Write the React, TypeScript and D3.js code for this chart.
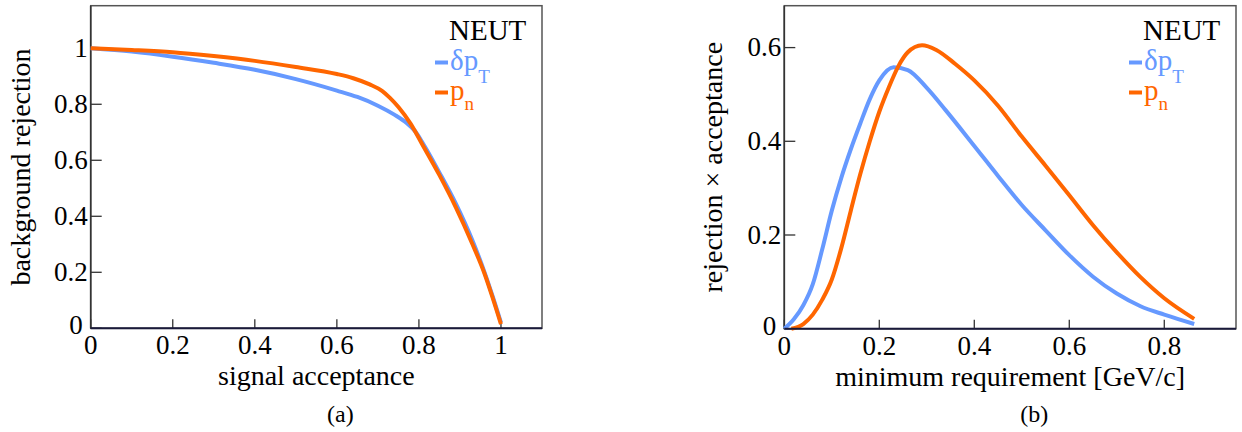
import React from "react";
import * as d3 from "d3";

// ---------- Data: panel (a) ROC curves ----------
const rocAccDpt = [0, 0.1, 0.2, 0.3, 0.4, 0.5, 0.6, 0.65, 0.7, 0.74, 0.77, 0.79, 0.81, 0.85, 0.89, 0.93, 0.96, 0.98, 1.0];
const rocRejDpt = [1.0, 0.988, 0.97, 0.948, 0.923, 0.89, 0.849, 0.826, 0.795, 0.763, 0.733, 0.705, 0.66, 0.556, 0.445, 0.315, 0.2, 0.113, 0.02];
const rocAccPn = [0, 0.1, 0.2, 0.3, 0.4, 0.5, 0.6, 0.64, 0.68, 0.71, 0.73, 0.75, 0.78, 0.81, 0.85, 0.89, 0.93, 0.96, 0.98, 1.0];
const rocRejPn = [1.0, 0.994, 0.986, 0.972, 0.955, 0.933, 0.908, 0.893, 0.871, 0.848, 0.822, 0.79, 0.73, 0.652, 0.547, 0.432, 0.302, 0.195, 0.108, 0.015];

// ---------- Data: panel (b) rejection x acceptance ----------
const minReqDpt = [0, 0.02, 0.04, 0.06, 0.08, 0.1, 0.12, 0.14, 0.16, 0.18, 0.2, 0.23, 0.26, 0.3, 0.34, 0.4, 0.45, 0.5, 0.55, 0.6, 0.65, 0.7, 0.75, 0.8, 0.863];
const prodDpt = [0, 0.02, 0.05, 0.095, 0.17, 0.252, 0.322, 0.383, 0.438, 0.49, 0.53, 0.558, 0.552, 0.514, 0.466, 0.39, 0.326, 0.264, 0.21, 0.157, 0.111, 0.075, 0.048, 0.03, 0.01];
const minReqPn = [0.015, 0.04, 0.06, 0.08, 0.1, 0.12, 0.14, 0.16, 0.18, 0.2, 0.22, 0.24, 0.26, 0.29, 0.32, 0.36, 0.4, 0.45, 0.5, 0.55, 0.6, 0.65, 0.7, 0.75, 0.8, 0.863];
const prodPn = [0, 0.01, 0.03, 0.062, 0.105, 0.172, 0.252, 0.33, 0.4, 0.463, 0.515, 0.56, 0.59, 0.605, 0.595, 0.565, 0.53, 0.476, 0.41, 0.348, 0.285, 0.221, 0.163, 0.11, 0.065, 0.021];

const ticksA_X = [0, 0.2, 0.4, 0.6, 0.8, 1];
const ticksA_Y = [0, 0.2, 0.4, 0.6, 0.8, 1];
const ticksB_X = [0, 0.2, 0.4, 0.6, 0.8];
const ticksB_Y = [0, 0.2, 0.4, 0.6];

const BLUE = "#6699ff";
const ORANGE = "#ff6600";
const FONT = "Liberation Serif";

type PanelProps = {
  left: number;
  right: number;
  top: number;
  bottom: number;
  xMax: number;
  yMax: number;
  xTicks: number[];
  yTicks: number[];
  xTitle: string;
  yTitle: string;
  yTitleX: number;
  tag: string;
  blue: [number[], number[]];
  orange: [number[], number[]];
};

function fmt(v: number) {
  return v === 0 ? "0" : v === 1 ? "1" : String(v);
}

function Panel(p: PanelProps) {
  const x = d3.scaleLinear().domain([0, p.xMax]).range([p.left, p.right]);
  const y = d3.scaleLinear().domain([0, p.yMax]).range([p.bottom, p.top]);
  const line = d3
    .line<[number, number]>()
    .x((d) => x(d[0]))
    .y((d) => y(d[1]))
    .curve(d3.curveMonotoneX);
  const zip = (a: number[], b: number[]) => a.map((v, i) => [v, b[i]] as [number, number]);
  const cx = (p.left + p.right) / 2;
  const cy = (p.top + p.bottom) / 2;
  const fs = 28;
  const tfs = 27;
  const lx = p.right - 93;
  const ts = { fontFamily: FONT };
  return (
    <g style={ts}>
      {/* frame */}
      <rect x={p.left} y={p.top} width={p.right - p.left} height={p.bottom - p.top} fill="none" stroke="#555" strokeWidth={1.5} />
      <line x1={p.left} x2={p.left} y1={p.top} y2={p.bottom} stroke="#333" strokeWidth={1.6} />
      {/* x ticks */}
      {p.xTicks.map((t) => (
        <g key={"x" + t}>
          <line x1={x(t)} x2={x(t)} y1={p.bottom} y2={p.bottom - 9} stroke="#333" strokeWidth={1.3} />
          <text x={x(t)} y={p.bottom + 26} textAnchor="middle" fontSize={tfs} fill="#000" style={ts}>
            {fmt(t)}
          </text>
        </g>
      ))}
      {/* y ticks */}
      {p.yTicks.map((t) => (
        <g key={"y" + t}>
          <line x1={p.left} x2={p.left + 11} y1={y(t)} y2={y(t)} stroke="#333" strokeWidth={1.3} />
          <text
            x={p.left - (t === 0 ? 8 : 3)}
            y={y(t) - (t === 0 ? 3 : 0)}
            dy="0.33em"
            textAnchor="end"
            fontSize={tfs}
            fill="#000"
            style={ts}
          >
            {fmt(t)}
          </text>
        </g>
      ))}
      {/* curves */}
      <path d={line(zip(p.blue[0], p.blue[1])) || ""} fill="none" stroke={BLUE} strokeWidth={4} strokeLinejoin="round" />
      <path d={line(zip(p.orange[0], p.orange[1])) || ""} fill="none" stroke={ORANGE} strokeWidth={4} strokeLinejoin="round" />
      {/* bottom axis line */}
      <line x1={p.left} x2={p.right} y1={p.bottom} y2={p.bottom} stroke="#1a1a3a" strokeWidth={2} />
      {/* axis titles */}
      <text x={cx} y={p.bottom + 57} textAnchor="middle" fontSize={fs} fill="#000" style={ts}>
        {p.xTitle}
      </text>
      <text
        transform={`translate(${p.yTitleX},${cy}) rotate(-90)`}
        textAnchor="middle"
        fontSize={fs}
        fill="#000"
        style={ts}
      >
        {p.yTitle}
      </text>
      <text x={cx + 24} y={422} textAnchor="middle" fontSize={24} fill="#000" style={ts}>
        {p.tag}
      </text>
      {/* legend */}
      <text x={lx} y={40} fontSize={29} fill="#000" style={ts}>NEUT</text>
      <line x1={p.right - 107} x2={p.right - 94} y1={62.5} y2={62.5} stroke={BLUE} strokeWidth={4} />
      <text x={lx + 1} y={70} fontSize={29} fill={BLUE} style={ts}>
        δp
        <tspan dy={13} fontSize={19}>T</tspan>
      </text>
      <line x1={p.right - 107} x2={p.right - 94} y1={92.5} y2={92.5} stroke={ORANGE} strokeWidth={4} />
      <text x={lx + 1} y={100} fontSize={29} fill={ORANGE} style={ts}>
        p
        <tspan dy={10} fontSize={19}>n</tspan>
      </text>
    </g>
  );
}

export default function App() {
  return (
    <svg
      width={1242}
      height={432}
      style={{ position: "absolute", left: 0, top: 0, background: "#fff" }}
    >
      <rect width={1242} height={432} fill="#fff" />
      <Panel
        left={90.7}
        right={542}
        top={5.7}
        bottom={328.3}
        xMax={1.1}
        yMax={1.152}
        xTicks={ticksA_X}
        yTicks={ticksA_Y}
        xTitle="signal acceptance"
        yTitle="background rejection"
        yTitleX={30}
        tag="(a)"
        blue={[rocAccDpt, rocRejDpt]}
        orange={[rocAccPn, rocRejPn]}
      />
      <Panel
        left={784.3}
        right={1236}
        top={5.7}
        bottom={328.7}
        xMax={0.951}
        yMax={0.6894}
        xTicks={ticksB_X}
        yTicks={ticksB_Y}
        xTitle="minimum requirement [GeV/c]"
        yTitle="rejection × acceptance"
        yTitleX={722}
        tag="(b)"
        blue={[minReqDpt, prodDpt]}
        orange={[minReqPn, prodPn]}
      />
    </svg>
  );
}
